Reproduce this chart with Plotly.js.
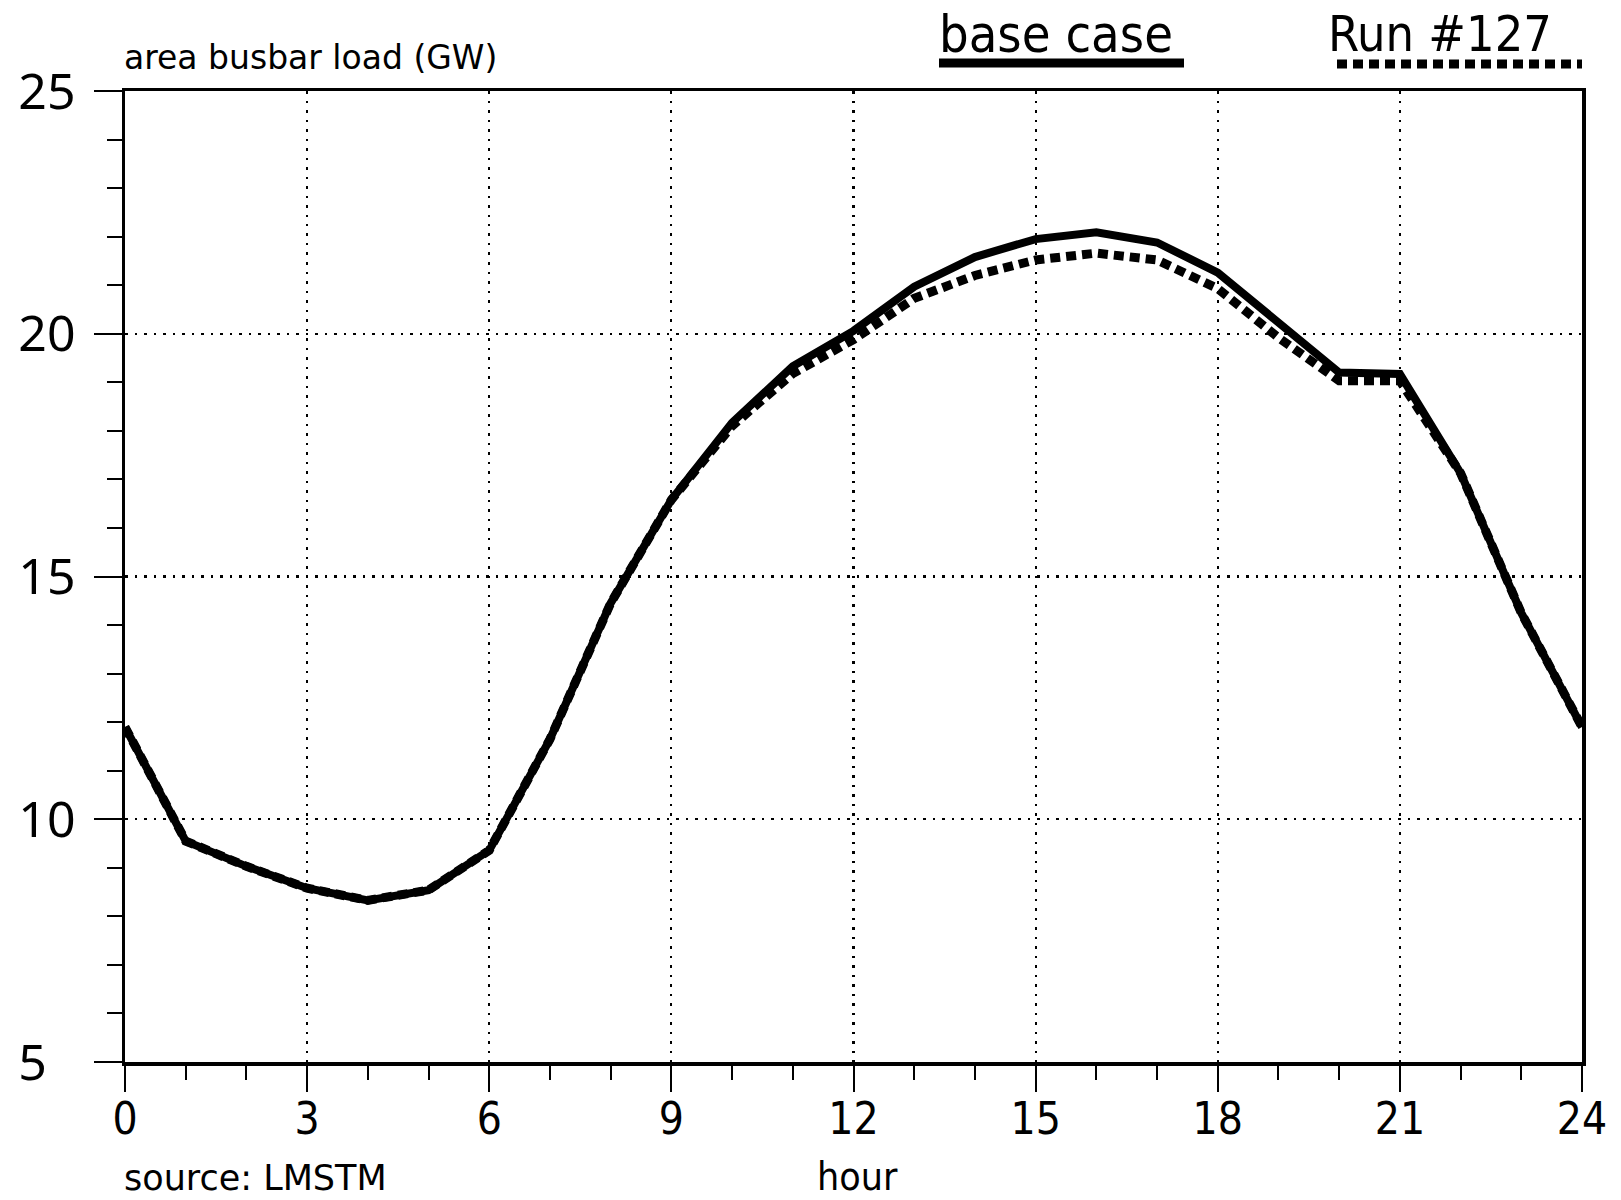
<!DOCTYPE html>
<html>
<head>
<meta charset="utf-8">
<script src="https://cdn.plot.ly/plotly-3.0.1.min.js"></script>
<style>html,body{margin:0;padding:0;background:#fff;}#chart{width:1621px;height:1200px;}</style>
</head>
<body>
<div id="chart"></div>
<script>
// ---- data ----
var hours = [0,1,2,3,4,5,6,7,8,9,10,11,12,13,14,15,16,17,18,19,20,21,22,23,24];
var baseCase = [11.9, 9.55, 9.03, 8.58, 8.33, 8.54, 9.36, 11.65, 14.45, 16.58, 18.17, 19.33, 20.06, 20.97, 21.58, 21.95, 22.09, 21.88, 21.26, 20.23, 19.2, 19.17, 17.13, 14.25, 11.9];
var run127   = [11.9, 9.55, 9.03, 8.58, 8.33, 8.54, 9.36, 11.65, 14.45, 16.58, 18.1, 19.18, 19.88, 20.73, 21.2, 21.52, 21.66, 21.52, 20.93, 19.92, 19.03, 19.03, 17.13, 14.25, 11.9];
var seriesNames = ['base case', 'Run #127'];
var xTickVals = [0,3,6,9,12,15,18,21,24];
var yTickVals = [5,10,15,20,25];
var yTickText = ['5\u2007','10','15','20','25'];
var yTitle = 'area busbar load (GW)';
var xTitle = 'hour';
var sourceNote = 'source: LMSTM';

// ---- layout geometry ----
var W = 1621, H = 1200;
var M = {l:125, r:39, t:91, b:138};
var PW = W - M.l - M.r, PH = H - M.t - M.b;
function px(x){ return (x - M.l) / PW; }
function py(y){ return (H - M.b - y) / PH; }

var narrow = "'Liberation Sans Narrow', 'DejaVu Sans Condensed', 'Liberation Sans', sans-serif";
var geo = "'Noto Sans', 'Open Sans', 'DejaVu Sans', sans-serif";
var wide = "'DejaVu Sans', 'Noto Sans', sans-serif";

var traces = [
  {x: hours, y: run127, type:'scatter', mode:'lines', name: seriesNames[1],
   line:{color:'#000', width:9, dash:'10px,6px'}, hoverinfo:'skip'},
  {x: hours, y: baseCase, type:'scatter', mode:'lines', name: seriesNames[0],
   line:{color:'#000', width:8}, hoverinfo:'skip'}
];

var layout = {
  width: W, height: H,
  margin: M,
  paper_bgcolor:'#fff', plot_bgcolor:'#fff',
  showlegend:false,
  xaxis:{
    range:[0,24], tickvals:xTickVals, ticktext:xTickVals.map(String),
    ticks:'outside', ticklen:26, tickwidth:2, tickcolor:'#000',
    minor:{dtick:1, tick0:0, ticks:'outside', ticklen:14, tickwidth:2, tickcolor:'#000', showgrid:false},
    showline:true, mirror:true, linewidth:3.5, linecolor:'#000',
    showgrid:true, gridcolor:'#000', gridwidth:2.2, griddash:'2.5px,7px',
    zeroline:false, ticklabelstandoff:-10,
    tickfont:{family:narrow, size:44, color:'#000'}
  },
  yaxis:{
    range:[5,25], tickvals:yTickVals, ticktext:yTickText,
    ticks:'outside', ticklen:28, tickwidth:2, tickcolor:'#000',
    minor:{dtick:1, tick0:0, ticks:'outside', ticklen:15, tickwidth:2, tickcolor:'#000', showgrid:false},
    showline:true, mirror:true, linewidth:3.5, linecolor:'#000',
    showgrid:true, gridcolor:'#000', gridwidth:2.2, griddash:'2.5px,7px',
    zeroline:false, ticklabelstandoff:8,
    tickfont:{family:geo, size:50, color:'#000'}
  },
  annotations:[
    {text:yTitle, xref:'paper', yref:'paper', x:px(122), y:py(57), xanchor:'left', yanchor:'middle',
     showarrow:false, font:{family:wide, size:33, color:'#000'}},
    {text:xTitle, xref:'paper', yref:'paper', x:px(857), y:py(1176), xanchor:'center', yanchor:'middle',
     showarrow:false, font:{family:narrow, size:39, color:'#000'}},
    {text:sourceNote, xref:'paper', yref:'paper', x:px(122), y:py(1178), xanchor:'left', yanchor:'middle',
     showarrow:false, font:{family:wide, size:35, color:'#000'}},
    {text:seriesNames[0], xref:'paper', yref:'paper', x:px(1056), y:py(34), xanchor:'center', yanchor:'middle',
     showarrow:false, font:{family:narrow, size:52, color:'#000'}},
    {text:seriesNames[1], xref:'paper', yref:'paper', x:px(1440), y:py(34), xanchor:'center', yanchor:'middle',
     showarrow:false, font:{family:narrow, size:50, color:'#000'}}
  ],
  shapes:[
    {type:'line', xref:'paper', yref:'paper', x0:px(939), x1:px(1184), y0:py(63), y1:py(63),
     line:{color:'#000', width:9}},
    {type:'line', xref:'paper', yref:'paper', x0:px(1337), x1:px(1582), y0:py(64), y1:py(64),
     line:{color:'#000', width:9, dash:'10px,6px'}}
  ]
};

Plotly.newPlot('chart', traces, layout, {staticPlot:true, displayModeBar:false});
</script>
</body>
</html>
